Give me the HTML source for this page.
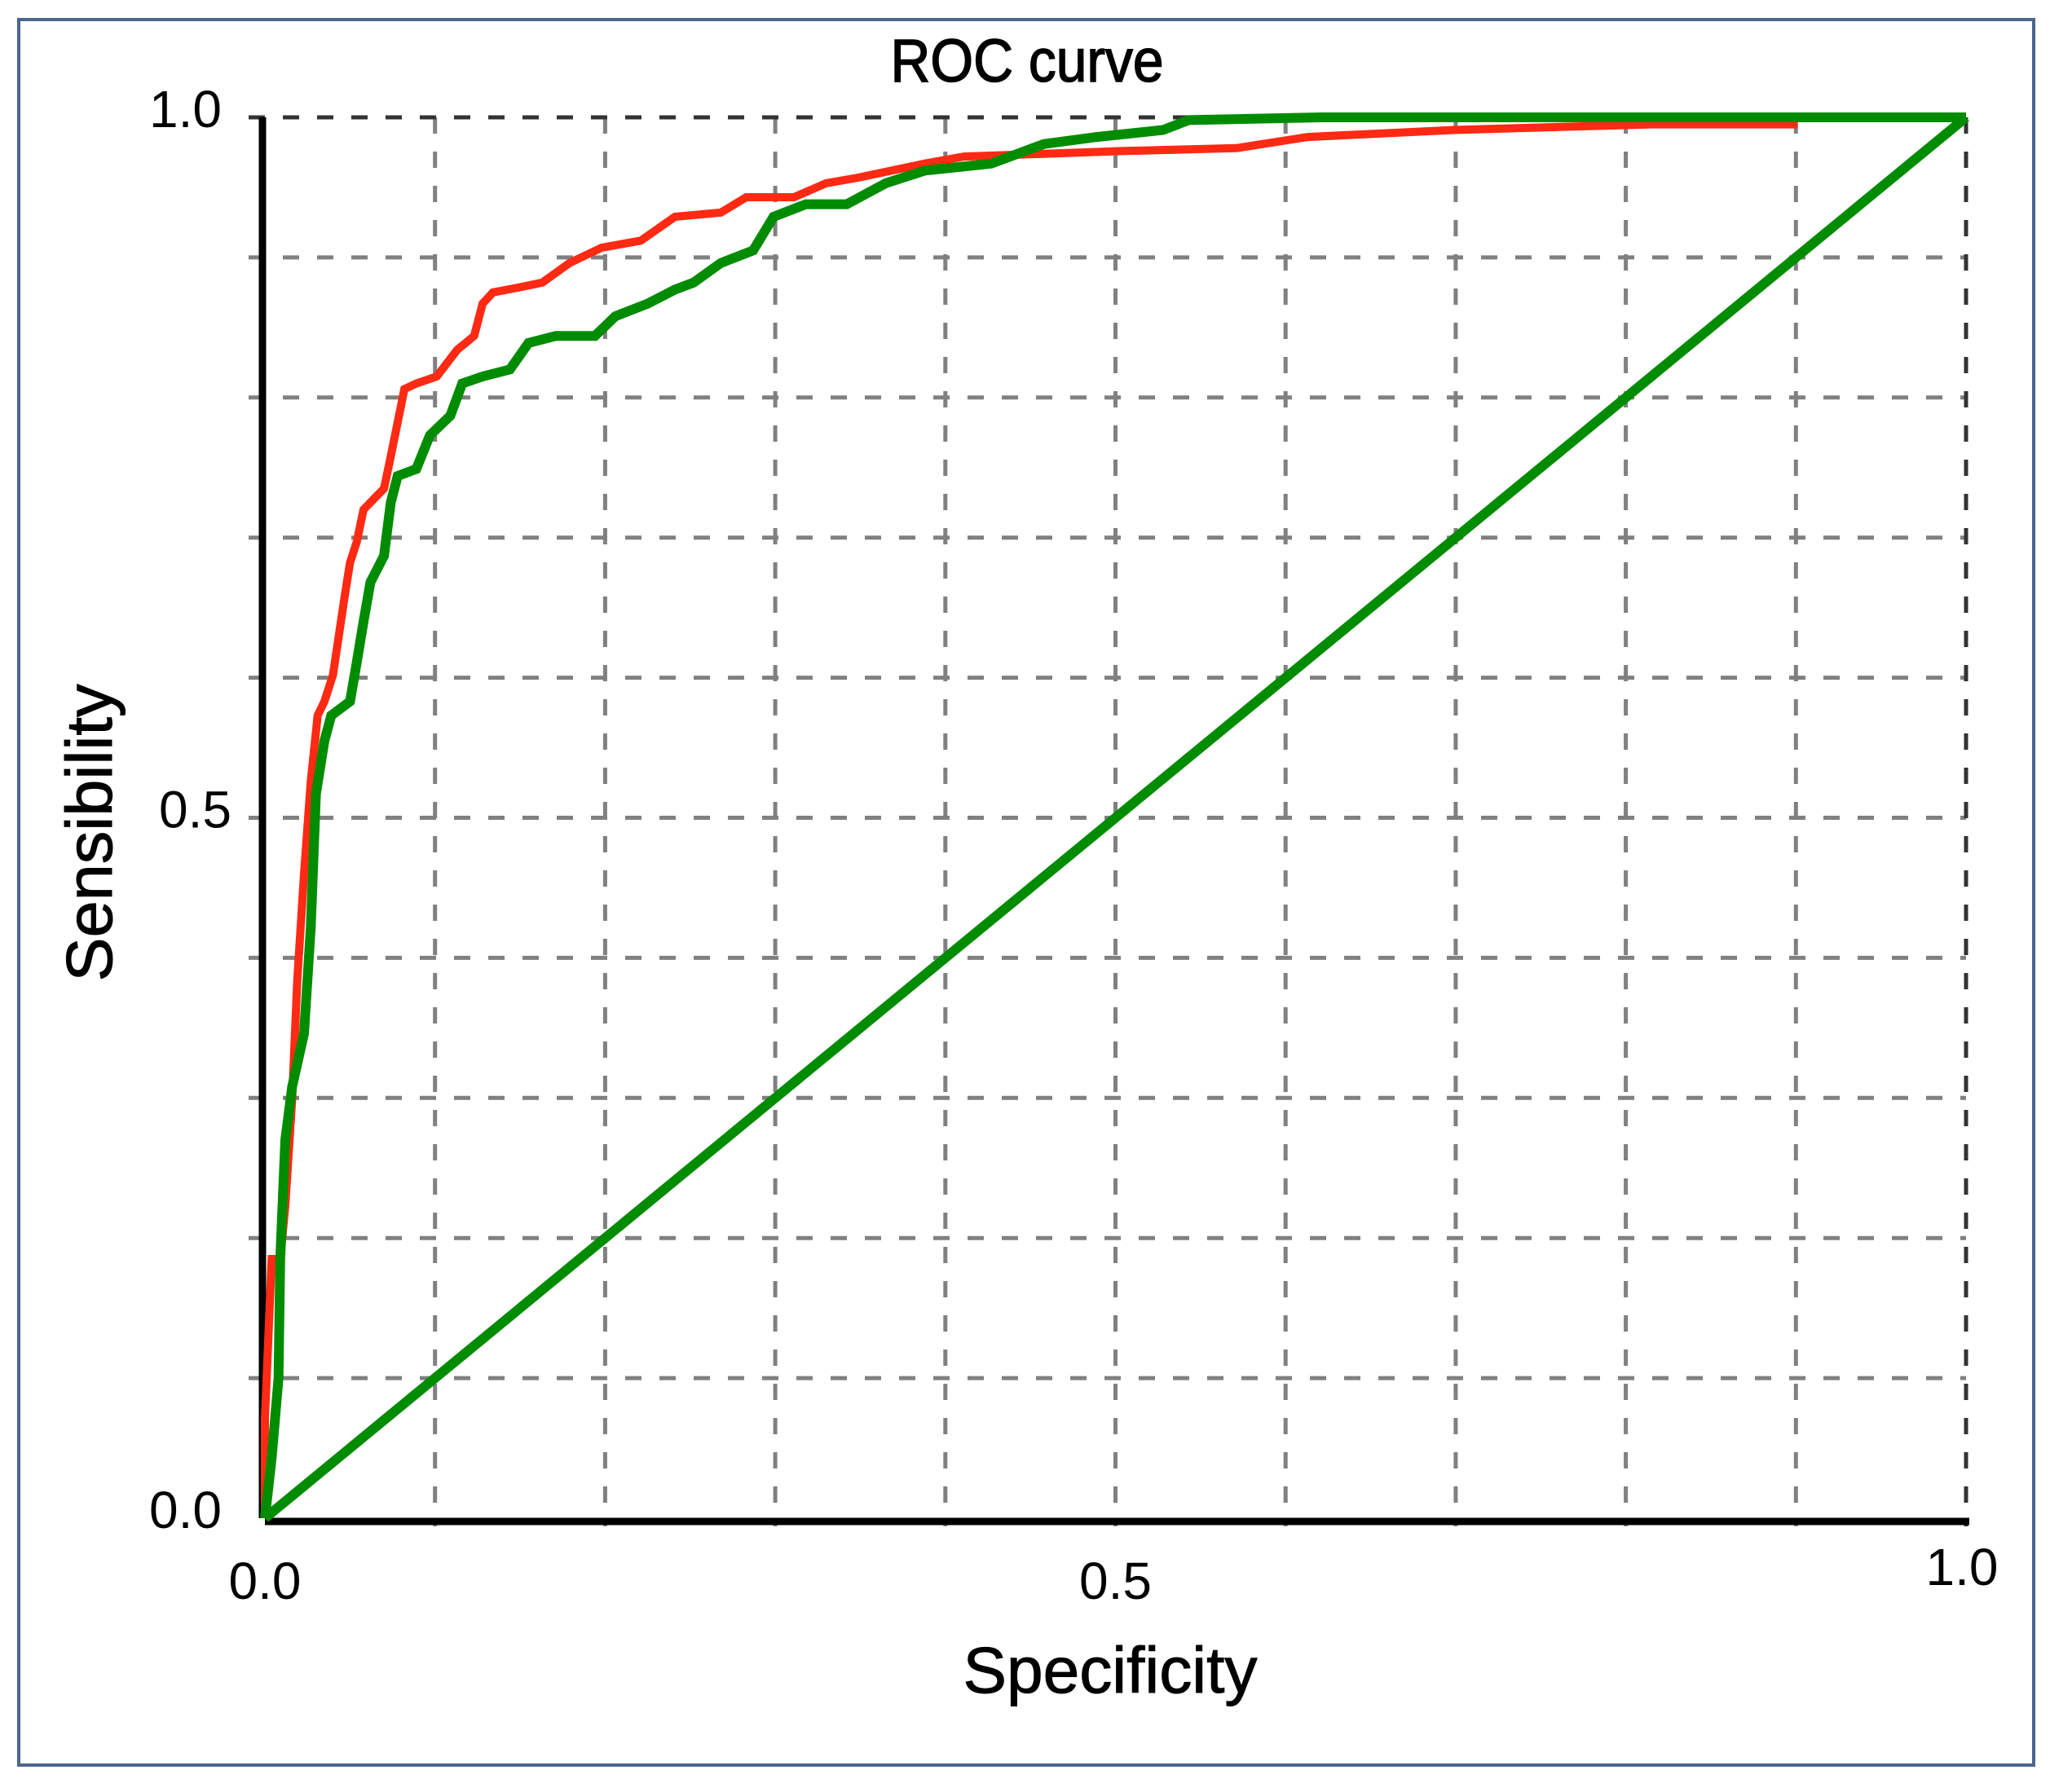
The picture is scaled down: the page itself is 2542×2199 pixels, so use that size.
<!DOCTYPE html>
<html><head><meta charset="utf-8"><style>
html,body{margin:0;padding:0;background:#fff;}
svg{display:block;}
text{font-family:"Liberation Sans",sans-serif;fill:#000;}
</style></head><body>
<svg id="chart" width="2542" height="2199" viewBox="0 0 2542 2199" xmlns="http://www.w3.org/2000/svg">
<rect x="23" y="24" width="2472" height="2142" fill="#fff" stroke="#4a6590" stroke-width="4"/>
<g id="grid"></g>
<g id="axes"></g>
<g id="series"></g>
<text x="1260" y="100" font-size="74" stroke="#000" stroke-width="1.5" text-anchor="middle" textLength="335" lengthAdjust="spacingAndGlyphs">ROC curve</text>
<text x="1362" y="2077" font-size="80" stroke="#000" stroke-width="1" text-anchor="middle" textLength="361" lengthAdjust="spacingAndGlyphs">Specificity</text>
<text transform="translate(137,1022) rotate(-90)" font-size="80" stroke="#000" stroke-width="1" text-anchor="middle" textLength="365" lengthAdjust="spacingAndGlyphs">Sensibility</text>
<g id="ticks"></g>
</svg>
<script>
const xTickValues=[0,0.5,1];
const xTickLabels=["0.0","0.5","1.0"];
const yTickValues=[0,0.5,1];
const yTickLabels=["0.0","0.5","1.0"];
const redX=[0,0,0.004,0.009,0.012,0.016,0.019,0.023,0.027,0.031,0.035,0.040,0.047,0.050,0.054,0.058,0.066,0.070,0.074,0.082,0.089,0.101,0.113,0.123,0.128,0.134,0.151,0.163,0.179,0.198,0.221,0.241,0.268,0.283,0.311,0.330,0.349,0.388,0.411,0.458,0.505,0.571,0.613,0.699,0.815,0.901];
const redY=[0,0.071,0.185,0.185,0.223,0.299,0.384,0.460,0.526,0.573,0.583,0.602,0.659,0.682,0.697,0.720,0.730,0.735,0.758,0.806,0.810,0.815,0.834,0.844,0.867,0.875,0.879,0.882,0.896,0.907,0.912,0.929,0.932,0.943,0.943,0.953,0.957,0.967,0.972,0.974,0.976,0.978,0.986,0.991,0.995,0.995];
const greenX=[0,0.004,0.008,0.009,0.012,0.016,0.023,0.027,0.030,0.035,0.039,0.050,0.054,0.058,0.062,0.070,0.074,0.078,0.089,0.097,0.109,0.116,0.128,0.144,0.155,0.171,0.194,0.206,0.225,0.241,0.252,0.268,0.287,0.299,0.318,0.342,0.365,0.388,0.427,0.458,0.489,0.528,0.543,0.621,1];
const greenY=[0,0.043,0.100,0.185,0.270,0.308,0.346,0.422,0.517,0.555,0.573,0.583,0.611,0.640,0.668,0.687,0.725,0.744,0.749,0.773,0.787,0.810,0.815,0.820,0.839,0.844,0.844,0.858,0.867,0.877,0.882,0.896,0.905,0.929,0.938,0.938,0.953,0.962,0.967,0.981,0.986,0.991,0.998,1,1];
const diagX=[0,1];
const diagY=[0,1];

const X0=325,X1=2412,Y0=1863,Y1=144;
function sx(v){return X0+(X1-X0)*v;}
function sy(v){return Y0-(Y0-Y1)*v;}
const NS="http://www.w3.org/2000/svg";
function mk(tag,attrs,parent){const e=document.createElementNS(NS,tag);for(const k in attrs)e.setAttribute(k,attrs[k]);parent.appendChild(e);return e;}
const grid=document.getElementById('grid');
for(let i=1;i<=10;i++){
  const v=i/10;
  const l=mk('line',{x1:sx(v),y1:Y1,x2:sx(v),y2:Y0+10,stroke:i===10?'#333':'#808080','stroke-width':5,'stroke-dasharray':'20 22'},grid);
  
  
  const h=mk('line',{x1:X0-20,y1:sy(v),x2:X1,y2:sy(v),stroke:i===10?'#333':'#808080','stroke-width':5,'stroke-dasharray':'20 22'},grid);
  
  
}
const axes=document.getElementById('axes');
const ya=mk('line',{x1:X0-3,y1:Y1,x2:X0-3,y2:Y0,stroke:'#000','stroke-width':9},axes);


const xa=mk('line',{x1:X0,y1:Y0+4,x2:X1+4,y2:Y0+4,stroke:'#000','stroke-width':9},axes);


const ticks=document.getElementById('ticks');
xTickValues.forEach((v,i)=>{
  const t=mk('text',{x:sx(v)+(i===2?-5:0),y:i===2?1945:1962,'font-size':64,'text-anchor':'middle'},ticks);
  t.textContent=xTickLabels[i];
  
  
});
yTickValues.forEach((v,i)=>{
  const t=mk('text',{x:i===1?284:272,y:sy(v)+12,'font-size':64,'text-anchor':'end'},ticks);
  t.textContent=yTickLabels[i];
  
  
});
const series=document.getElementById('series');
function pts(xs,ys){return xs.map((x,i)=>sx(x).toFixed(1)+','+sy(ys[i]).toFixed(1)).join(' ');}
const d=mk('polyline',{points:pts(diagX,diagY),fill:'none',stroke:'#008c00','stroke-width':12,'stroke-linejoin':'round'},series);


const r=mk('polyline',{points:pts(redX,redY),fill:'none',stroke:'#ff2a14','stroke-width':10,'stroke-linejoin':'miter'},series);


const g=mk('polyline',{points:pts(greenX,greenY),fill:'none',stroke:'#008c00','stroke-width':12,'stroke-linejoin':'miter'},series);


</script>
</body></html>
